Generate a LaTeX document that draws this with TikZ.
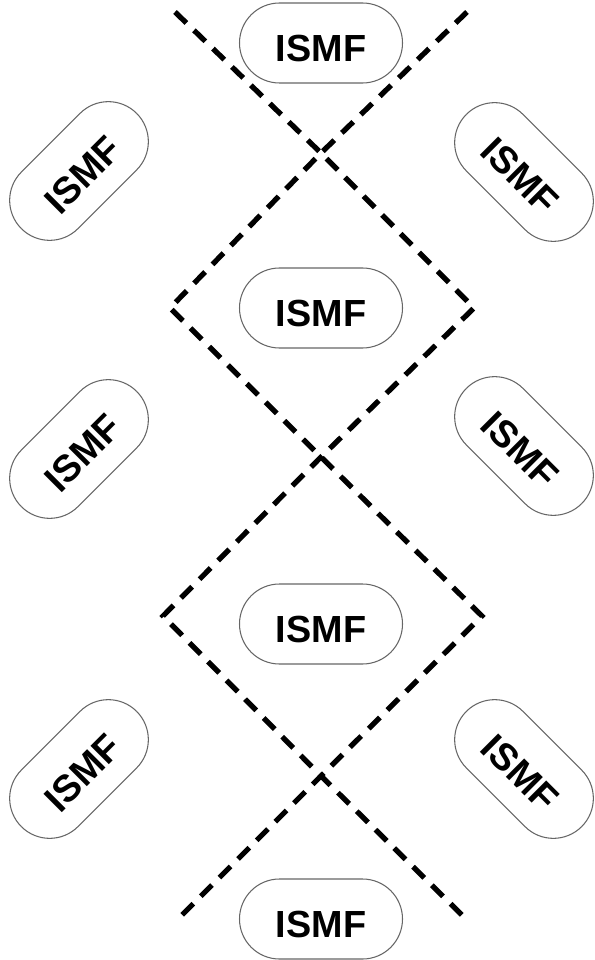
\documentclass[tikz,border=0pt]{standalone}
\usepackage{fontspec}
\setmainfont{Liberation Sans}
\usetikzlibrary{shapes.misc}
\begin{document}
\begin{tikzpicture}[scale=0.2]
    \tikzstyle{every node}+=[inner sep=0pt]
    \tikzstyle{ismf}=[draw=black!60, line width=0.6pt, rounded rectangle, minimum width=3.26cm, minimum height=1.6cm, text height=0.76cm, font=\fontsize{21.5}{24}\selectfont\bfseries]
    \tikzstyle{zigzag}=[black, line width=3pt, dash pattern=on 9pt off 6pt]
    \useasboundingbox (0,0) rectangle (59.4,-96);
    \draw (32.1,-4.3) node [ismf] (top) {ISMF};
    \draw (32.1,-30.8) node [ismf] (midup) {ISMF};
    \draw (32.1,-62.4) node [ismf] (midlow) {ISMF};
    \draw (32.1,-91.9) node [ismf] (bottom) {ISMF};
    \draw (7.9,-17.1) node [ismf, rotate=45] (leftup) {ISMF};
    \draw (7.9,-44.9) node [ismf, rotate=45] (leftmid) {ISMF};
    \draw (7.9,-76.9) node [ismf, rotate=45] (leftlow) {ISMF};
    \draw (52.4,-17.2) node [ismf, rotate=-45] (rightup) {ISMF};
    \draw (52.4,-44.6) node [ismf, rotate=-45] (rightmid) {ISMF};
    \draw (52.4,-76.9) node [ismf, rotate=-45] (rightlow) {ISMF};
    \coordinate (tl) at (17.5,-1.2);
    \coordinate (tr) at (46.7,-1.2);
    \coordinate (c1) at (32.1,-15.3);
    \coordinate (l1) at (17,-30.8);
    \coordinate (r1) at (47.4,-30.8);
    \coordinate (c2) at (32.1,-45.7);
    \coordinate (l2) at (16.3,-61.6);
    \coordinate (r2) at (48.2,-61.6);
    \coordinate (c3) at (32.1,-77.6);
    \coordinate (bl) at (18,-91.7);
    \coordinate (br) at (46.4,-91.7);
    \draw [zigzag] (tl) -- (c1) -- (r1) -- (c2) -- (l2) -- (c3) -- (br);
    \draw [zigzag] (tr) -- (c1) -- (l1) -- (c2) -- (r2) -- (c3) -- (bl);
\end{tikzpicture}
\end{document}
